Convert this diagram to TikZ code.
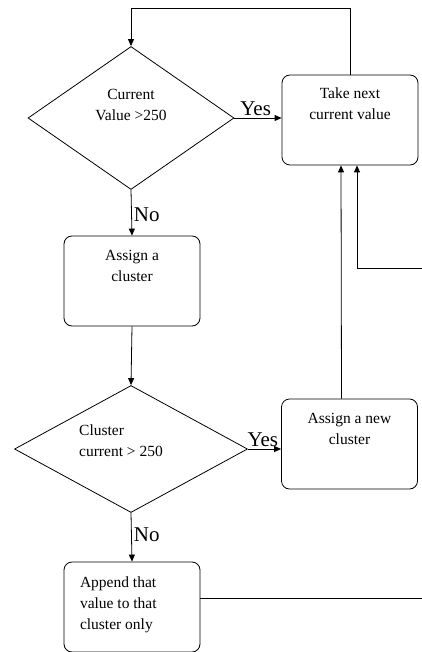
\documentclass[tikz,border=0pt]{standalone}
\usepackage{fontspec}
\setmainfont{Liberation Serif}
\usetikzlibrary{shapes.geometric,arrows.meta}
\begin{document}
\begin{tikzpicture}[x=1pt,y=-1pt,line width=0.8pt,%
                mybox/.style={draw,rounded corners=8pt,minimum width=136pt,minimum height=90pt,inner sep=0pt},
                mydiamond/.style={draw,shape=diamond,inner sep=0pt},
                mytext/.style={inner sep=0pt,font=\fontsize{15.5}{21}\selectfont},
                myarrow/.style={-{Triangle[length=7pt,width=6pt]}},
                yesno/.style={font=\fontsize{21}{24}\selectfont,inner sep=2pt}
        ]
            \useasboundingbox (0,0) rectangle (422,652);
            \node [mydiamond,minimum width=206pt,minimum height=143pt,
                    label={[mytext,align=center,anchor=north,yshift=13pt]center:Current\\Value >250}] (cur) at (131,118) {};
            \node [mybox,label={[mytext,align=center,anchor=north,yshift=-13pt]north:Take next\\current value}] (take) at (350,120) {};
            \node [mybox,label={[mytext,align=center,anchor=north,yshift=-14pt]north:Assign a\\cluster}] (asg) at (132,281) {};
            \node [mydiamond,minimum width=233pt,minimum height=127pt,
                    label={[mytext,align=left,anchor=north west,xshift=-10pt,yshift=8.5pt]center:Cluster\\current > 250}] (clu) at (131,449) {};
            \node [mybox,label={[mytext,align=center,anchor=north,yshift=-14pt]north:Assign a new\\cluster}] (new) at (349.5,444) {};
            \node [mybox,label={[mytext,align=left,anchor=north west,xshift=16pt,yshift=-15pt]north west:Append that\\value to that\\cluster only}] (app) at (132,607) {};
            \coordinate (appout) at (422,598);
            \coordinate (backin) at (422,268);
            % arrows
            \draw [myarrow] (take.north) -- ++(0,-66) -| (cur.north);
            \draw [myarrow] (cur.east) -- node [yesno,above,pos=0.45] {Yes} (cur.east -| take.west);
            \draw [myarrow] (cur.south) -- node [yesno,right,pos=0.55] {No} (asg.north);
            \draw [myarrow] (asg.south) -- (clu.north);
            \draw [myarrow] (clu.east) -- node [yesno,above,pos=0.45] {Yes} (clu.east -| new.west);
            \draw [myarrow] (clu.south) -- node [yesno,right,pos=0.45] {No} (app.north);
            \draw [myarrow] ([xshift=-8pt]new.north) -- ([xshift=-9pt]take.south);
            \draw [myarrow] (backin) -| ([xshift=7pt]take.south);
            \draw (appout -| app.east) -- (appout);
        \end{tikzpicture}
\end{document}
